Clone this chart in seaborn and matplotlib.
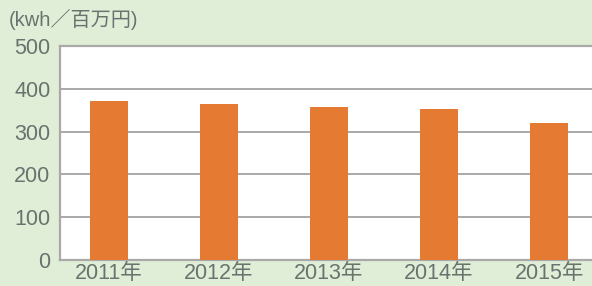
import matplotlib
matplotlib.use("Agg")
import matplotlib.pyplot as plt
import seaborn as sns
import pandas as pd

years = ["2011年", "2012年", "2013年", "2014年", "2015年"]
values = [371, 364, 357, 353, 321]
unit_label = "(kwh／百万円)"

bg = "#e0eed8"
bar_color = "#e57b33"
text_color = "#6a726e"
grid_color = "#a9aaa8"

sns.set_style("white")
plt.rcParams["font.family"] = ["Liberation Sans", "Noto Sans CJK JP"]

df = pd.DataFrame({"year": years, "value": values})

fig = plt.figure(figsize=(5.92, 2.86), dpi=100, facecolor=bg)
ax = fig.add_axes([60 / 592, 26 / 286, 532 / 592, 214 / 286])
ax.set_facecolor("white")

sns.barplot(data=df, x="year", y="value", color=bar_color, width=0.345,
            saturation=1, linewidth=0, ax=ax, zorder=3)

ax.set_ylim(0, 500)
ax.set_yticks([0, 100, 200, 300, 400, 500])
ax.set_xlim(-0.445, 4.39)
ax.yaxis.grid(True, color=grid_color, linewidth=1.4, zorder=0)
ax.set_axisbelow(True)
ax.set_xlabel("")
ax.set_ylabel("")

ax.spines["right"].set_visible(False)
for side in ["left", "bottom", "top"]:
    ax.spines[side].set_color(grid_color)
    ax.spines[side].set_linewidth(1.6)

ax.tick_params(axis="both", length=0, labelsize=15.5, colors=text_color)
ax.tick_params(axis="y", pad=7)
ax.tick_params(axis="x", pad=2)

fig.text(9 / 592, 1 - 19 / 286, unit_label, fontsize=14.5, color=text_color,
         va="center", ha="left")

fig.savefig("out.png", dpi=100, facecolor=bg)
